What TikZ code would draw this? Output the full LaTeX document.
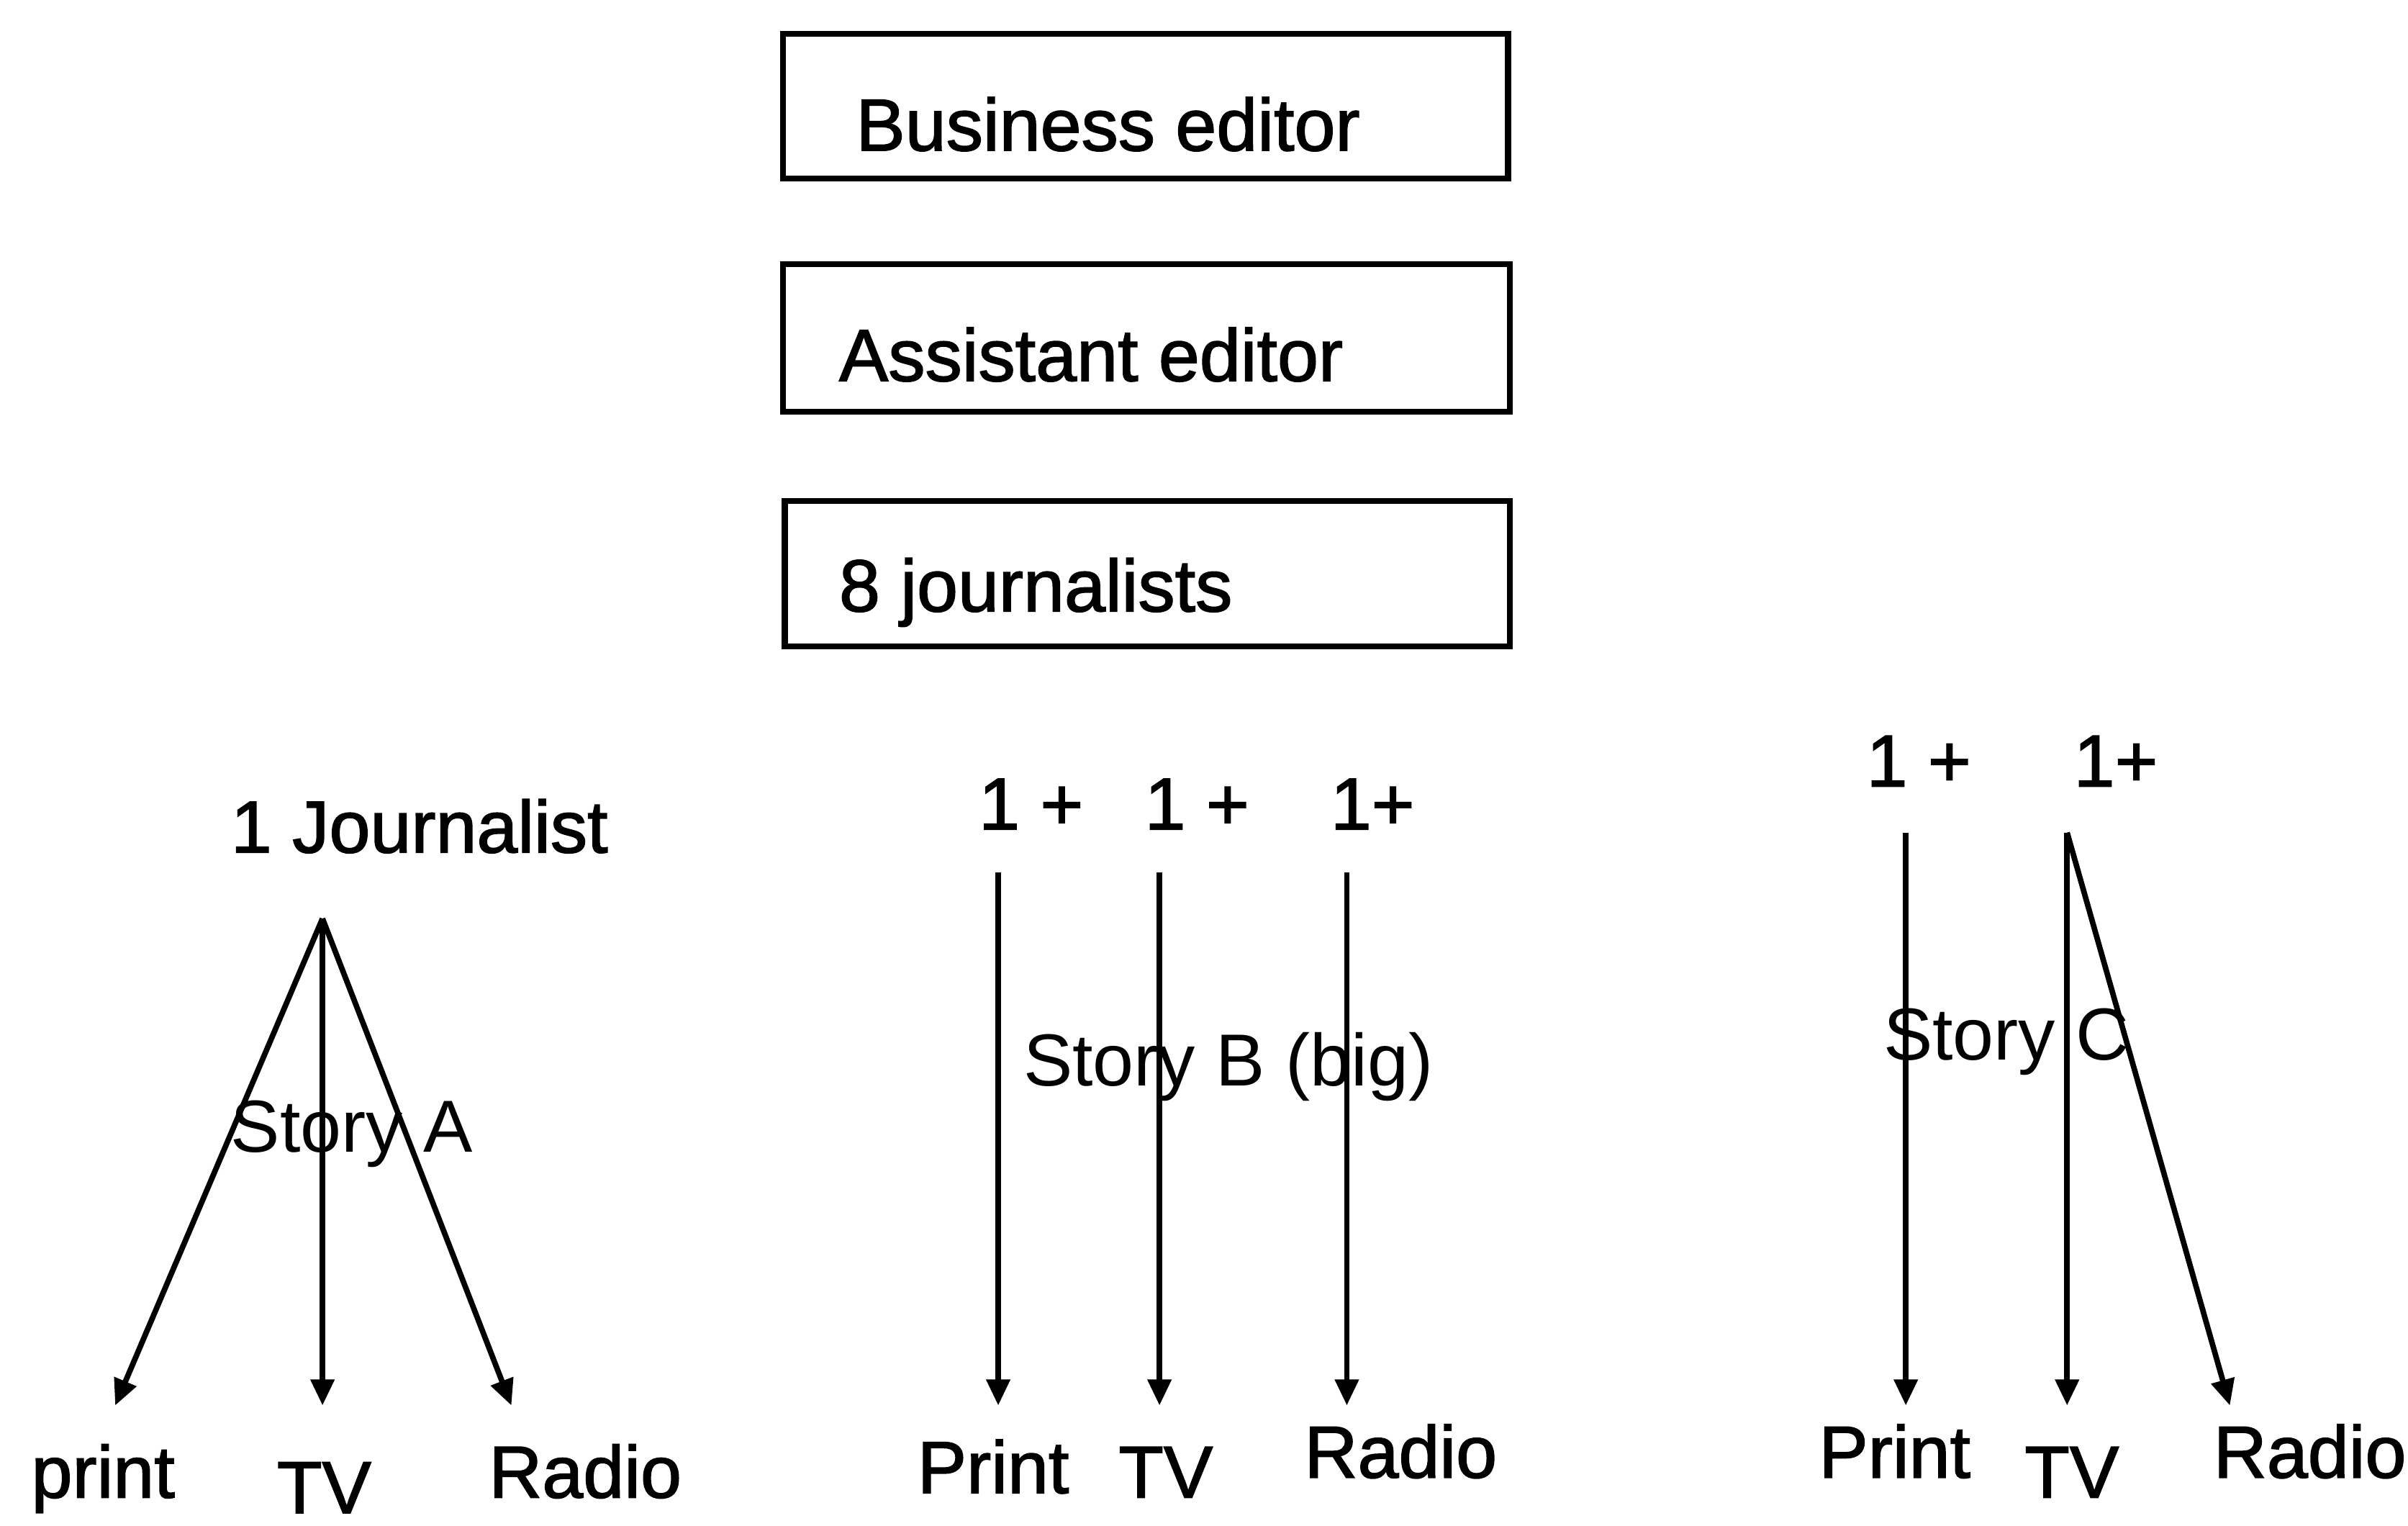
\documentclass[tikz,border=0pt]{standalone}
\usepackage{fontspec}
\setmainfont{Liberation Sans}
\newfontfamily\heavyfont[FakeBold=1.6]{Liberation Sans}
\usetikzlibrary{arrows.meta}
\begin{document}
\begin{tikzpicture}[x=0.5pt,y=-0.5pt,
  lbl/.style={inner sep=0pt,anchor=base west,font=\heavyfont\fontsize{24}{28}\selectfont},
  storylbl/.style={inner sep=0pt,anchor=base west,font=\fontsize{24}{28}\selectfont},
  boxline/.style={line width=1.9pt},
  arr/.style={line width=1.8pt,-{Triangle[length=8.5pt,width=7.5pt]}}]
\useasboundingbox (0,0) rectangle (1568,993);

% staff boxes
\draw[boxline] (510,22) rectangle (982,116);
\node[lbl] (be) at (557,98) {Business editor};
\draw[boxline] (510,172) rectangle (983,268);
\node[lbl] (ae) at (546,248) {Assistant editor};
\draw[boxline] (511,326) rectangle (983,421);
\node[lbl] (jn) at (546,398) {8 journalists};

% Story A: one journalist serves all three outlets
\node[lbl] (oneJ) at (150,555) {1 Journalist};
\coordinate (aTop) at (210,598);
\coordinate (aP) at (75,915);
\coordinate (aT) at (210,915);
\coordinate (aR) at (333,915);
\draw[arr] (aTop) -- (aP);
\draw[arr] (aTop) -- (aT);
\draw[arr] (aTop) -- (aR);
\node[storylbl] (stA) at (150,750) {Story A};
\node[lbl] (aPl) at (20,975) {print};
\node[lbl] (aTl) at (180,985) {TV};
\node[lbl] (aRl) at (318,975) {Radio};

% Story B (big): one journalist per outlet
\node[lbl] (b1) at (637,540) {1 +};
\node[lbl] (b2) at (745,540) {1 +};
\node[lbl] (b3) at (866,540) {1+};
\coordinate (b1s) at (650,568);
\coordinate (b2s) at (755,568);
\coordinate (b3s) at (877,568);
\coordinate (b1e) at (650,915);
\coordinate (b2e) at (755,915);
\coordinate (b3e) at (877,915);
\draw[arr] (b1s) -- (b1e);
\draw[arr] (b2s) -- (b2e);
\draw[arr] (b3s) -- (b3e);
\node[storylbl] (stB) at (666,707) {Story B (big)};
\node[lbl] (bPl) at (597,972) {Print};
\node[lbl] (bTl) at (728,975) {TV};
\node[lbl] (bRl) at (849,962) {Radio};

% Story C: print alone, TV and radio shared
\node[lbl] (c1) at (1215,512) {1 +};
\node[lbl] (c2) at (1350,512) {1+};
\coordinate (c1s) at (1241,542);
\coordinate (c2s) at (1346,542);
\coordinate (cP) at (1241,915);
\coordinate (cT) at (1346,915);
\coordinate (cR) at (1452,915);
\draw[arr] (c1s) -- (cP);
\draw[arr] (c2s) -- (cT);
\draw[arr] (c2s) -- (cR);
\node[storylbl] (stC) at (1226,690) {Story C};
\node[lbl] (cPl) at (1184,962) {Print};
\node[lbl] (cTl) at (1318,975) {TV};
\node[lbl] (cRl) at (1441,962) {Radio};
\end{tikzpicture}
\end{document}
